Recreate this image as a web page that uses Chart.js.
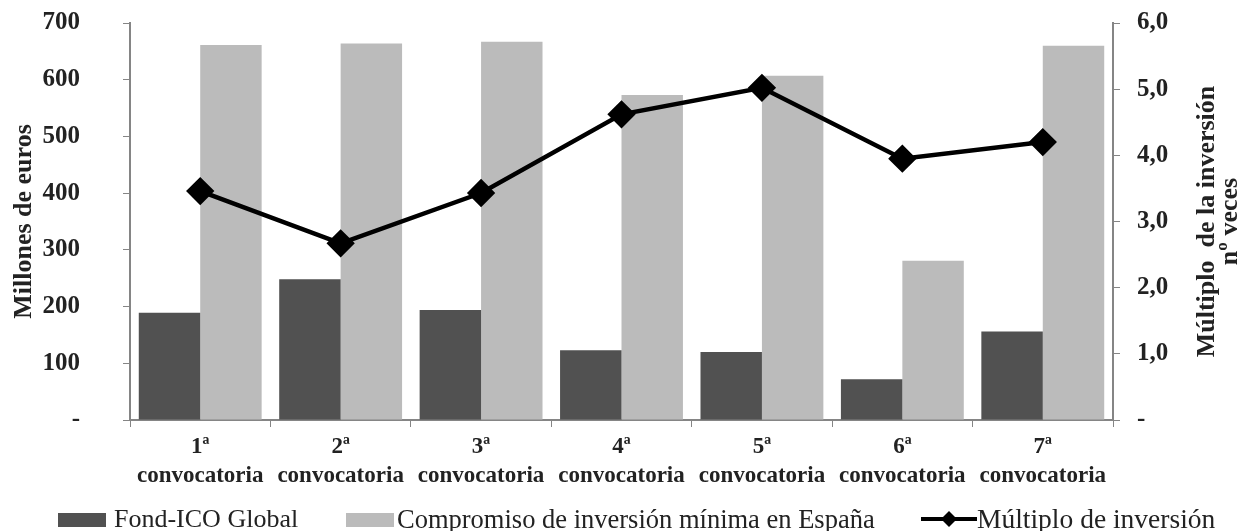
<!DOCTYPE html>
<html lang="es">
<head>
<meta charset="utf-8">
<title>Fond-ICO Global</title>
<script src="https://cdn.jsdelivr.net/npm/chart.js@4/dist/chart.umd.min.js"></script>
<style>
  html, body { margin: 0; padding: 0; background: #fff; }
  #wrap { position: relative; width: 1249px; height: 531px; }
  #grafico { position: absolute; left: 0; top: 0; }
  .leyenda { position: absolute; top: 504px; font-family: "Liberation Serif", "Times New Roman", serif; font-size: 26px; color: #222; white-space: nowrap; line-height: 30px; }
  .caja { position: absolute; top: 9px; width: 48px; height: 14px; }
  .marca { position: absolute; top: 1px; width: 56px; height: 28px; }
</style>
</head>
<body>
<div id="wrap">
  <canvas id="grafico" width="1249" height="531"></canvas>
  <div class="leyenda" style="left:58px"><span class="caja" style="left:0;background:#515151"></span><span style="margin-left:56px">Fond-ICO Global</span></div>
  <div class="leyenda" style="left:346px;font-size:26.5px"><span class="caja" style="left:0;background:#bbbbbb"></span><span style="margin-left:51px">Compromiso de inversión mínima en España</span></div>
  <div class="leyenda" style="left:921px;font-size:27.5px">
    <svg class="marca" viewBox="0 0 56 28"><line x1="0" y1="14" x2="56" y2="14" stroke="#000" stroke-width="4"/><path d="M28 6 L36 14 L28 22 L20 14 Z" fill="#000"/></svg>
    <span style="margin-left:56px">Múltiplo de inversión</span>
  </div>
</div>
<script>
// Datos
const convocatorias = [
  ['1ª', 'convocatoria'], ['2ª', 'convocatoria'], ['3ª', 'convocatoria'], ['4ª', 'convocatoria'],
  ['5ª', 'convocatoria'], ['6ª', 'convocatoria'], ['7ª', 'convocatoria']
];
const fondIco = [189, 248, 194, 123, 120, 72, 156];
const compromisoEspana = [661, 664, 667, 573, 607, 281, 660];
const multiplo = [3.46, 2.67, 3.43, 4.62, 5.02, 3.95, 4.20];

const GRIS_EJE = '#858585';
const fuenteEje = { family: '"Liberation Serif", "Times New Roman", serif', size: 25, weight: 'bold' };

// Titulo del eje derecho, girado como en Excel (de abajo hacia arriba)
const tituloDerecho = {
  id: 'tituloDerecho',
  afterDraw(chart) {
    const ctx = chart.ctx;
    const area = chart.chartArea;
    ctx.save();
    ctx.fillStyle = '#222';
    ctx.font = 'bold 26px "Liberation Serif", "Times New Roman", serif';
    ctx.textAlign = 'center';
    ctx.textBaseline = 'middle';
    const cy = (area.top + area.bottom) / 2;
    ctx.translate(1208, cy);
    ctx.rotate(-Math.PI / 2);
    ctx.fillText('Múltiplo  de la inversión', 0, -1);
    ctx.fillText('nº veces', 0, 22);
    ctx.restore();
  }
};

// Anchos fijos de los ejes y sin relleno extra arriba/abajo (el padding de los ticks lo añade)
function ajustarEjeY(ancho) {
  return (scale) => {
    scale.width = ancho;
    scale.paddingTop = 0;
    scale.paddingBottom = 0;
  };
}

new Chart(document.getElementById('grafico').getContext('2d'), {
  data: {
    labels: convocatorias,
    datasets: [
      {
        type: 'line',
        label: 'Múltiplo de inversión',
        data: multiplo,
        yAxisID: 'y1',
        borderColor: '#000',
        borderWidth: 4.5,
        pointStyle: 'rectRot',
        pointRadius: 11,
        pointBackgroundColor: '#000',
        pointBorderColor: '#000',
        tension: 0,
        order: 0
      },
      {
        type: 'bar',
        label: 'Fond-ICO Global',
        data: fondIco,
        yAxisID: 'y',
        backgroundColor: '#515151',
        barPercentage: 1.0,
        categoryPercentage: 0.875,
        order: 1
      },
      {
        type: 'bar',
        label: 'Compromiso de inversión mínima en España',
        data: compromisoEspana,
        yAxisID: 'y',
        backgroundColor: '#bbbbbb',
        barPercentage: 1.0,
        categoryPercentage: 0.875,
        order: 2
      }
    ]
  },
  options: {
    responsive: false,
    animation: false,
    layout: { autoPadding: false, padding: { top: 23, left: 0, right: 0, bottom: 0 } },
    plugins: {
      legend: { display: false },
      tooltip: { enabled: false }
    },
    scales: {
      x: {
        grid: { drawOnChartArea: false, color: GRIS_EJE, tickLength: 7, offset: true },
        border: { color: GRIS_EJE, width: 2 },
        ticks: { color: '#222', font: { ...fuenteEje, size: 23, lineHeight: 1.25 }, padding: 6, maxRotation: 0, autoSkip: false },
        afterFit(scale) { scale.height = 111; }
      },
      y: {
        position: 'left',
        min: 0, max: 700,
        grid: { drawOnChartArea: false, color: GRIS_EJE, tickLength: 7 },
        border: { color: GRIS_EJE, width: 2 },
        ticks: {
          stepSize: 100, color: '#222', font: fuenteEje, padding: 43,
          callback: (v) => v === 0 ? '-' : v
        },
        title: { display: true, text: 'Millones de euros', color: '#222', font: { ...fuenteEje, size: 26 }, padding: { top: 9, bottom: 0 } },
        afterFit: ajustarEjeY(130)
      },
      y1: {
        position: 'right',
        min: 0, max: 6,
        grid: { drawOnChartArea: false, color: GRIS_EJE, tickLength: 7 },
        border: { color: GRIS_EJE, width: 2 },
        ticks: {
          stepSize: 1, color: '#222', font: fuenteEje, padding: 17,
          callback: (v) => v === 0 ? '-' : v.toFixed(1).replace('.', ',')
        },
        afterFit: ajustarEjeY(136)
      }
    }
  },
  plugins: [tituloDerecho]
});
</script>
</body>
</html>
